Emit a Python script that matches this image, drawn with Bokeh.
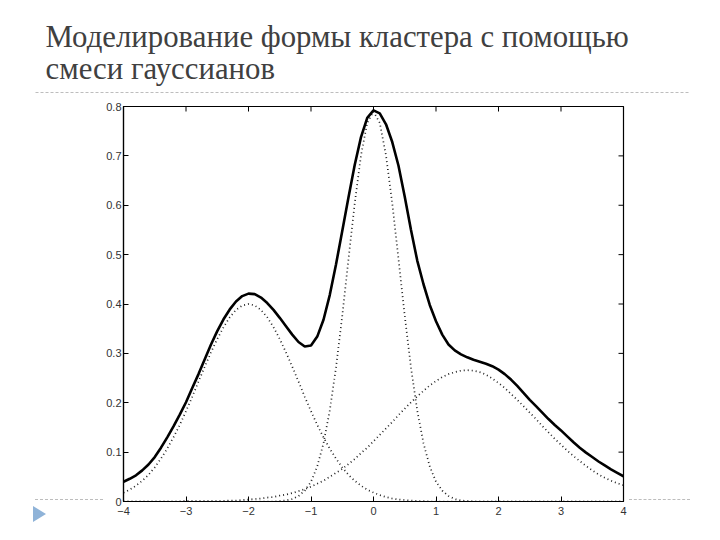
from bokeh.plotting import figure
from bokeh.layouts import column, row
from bokeh.models import Range1d, FixedTicker, LinearAxis, Div
from bokeh.core.properties import value
from bokeh.embed import file_html
from bokeh.resources import INLINE

# ---------------- data ----------------
title_lines = ["Моделирование формы кластера с помощью", "смеси гауссианов"]

x_ticks = [-4, -3, -2, -1, 0, 1, 2, 3, 4]
x_tick_labels = ["\u22124", "\u22123", "\u22122", "\u22121", "0", "1", "2", "3", "4"]
y_ticks = [0, 0.1, 0.2, 0.3, 0.4, 0.5, 0.6, 0.7, 0.8]
y_tick_labels = ["0", "0.1", "0.2", "0.3", "0.4", "0.5", "0.6", "0.7", "0.8"]

x_vals = [-4.0, -3.9, -3.8, -3.7, -3.6, -3.5, -3.4, -3.3, -3.2, -3.1,
          -3.0, -2.9, -2.8, -2.7, -2.6, -2.5, -2.4, -2.3, -2.2, -2.1,
          -2.0, -1.9, -1.8, -1.7, -1.6, -1.5, -1.4, -1.3, -1.2, -1.1,
          -1.0, -0.9, -0.8, -0.7, -0.6, -0.5, -0.4, -0.3, -0.2, -0.1,
          0.0, 0.1, 0.2, 0.3, 0.4, 0.5, 0.6, 0.7, 0.8, 0.9,
          1.0, 1.1, 1.2, 1.3, 1.4, 1.5, 1.6, 1.7, 1.8, 1.9,
          2.0, 2.1, 2.2, 2.3, 2.4, 2.5, 2.6, 2.7, 2.8, 2.9,
          3.0, 3.1, 3.2, 3.3, 3.4, 3.5, 3.6, 3.7, 3.8, 3.9, 4.0]

# left dotted component (centre near -2)
comp_left = [0.018, 0.024, 0.032, 0.042, 0.054, 0.069, 0.087, 0.107, 0.130, 0.155,
             0.183, 0.212, 0.243, 0.273, 0.302, 0.329, 0.353, 0.373, 0.388, 0.397,
             0.400, 0.397, 0.388, 0.373, 0.353, 0.329, 0.302, 0.273, 0.243, 0.212,
             0.183, 0.155, 0.130, 0.107, 0.087, 0.069, 0.054, 0.042, 0.032, 0.024,
             0.018, 0.013, 0.009, 0.006, 0.004, 0.003, 0.002, 0.001, 0.001, 0.0,
             0.0, 0.0, 0.0, 0.0, 0.0, 0.0, 0.0, 0.0, 0.0, 0.0,
             0.0, 0.0, 0.0, 0.0, 0.0, 0.0, 0.0, 0.0, 0.0, 0.0,
             0.0, 0.0, 0.0, 0.0, 0.0, 0.0, 0.0, 0.0, 0.0, 0.0, 0.0]

# central dotted component (narrow, centre near 0)
comp_mid = [0.0, 0.0, 0.0, 0.0, 0.0, 0.0, 0.0, 0.0, 0.0, 0.0,
            0.0, 0.0, 0.0, 0.0, 0.0, 0.0, 0.0, 0.0, 0.0, 0.0,
            0.0, 0.0, 0.0, 0.0, 0.0, 0.001, 0.002, 0.005, 0.011, 0.022,
            0.040, 0.071, 0.118, 0.184, 0.271, 0.376, 0.491, 0.604, 0.701, 0.767,
            0.790, 0.767, 0.701, 0.604, 0.491, 0.376, 0.271, 0.184, 0.118, 0.071,
            0.040, 0.022, 0.011, 0.005, 0.002, 0.001, 0.0, 0.0, 0.0, 0.0,
            0.0, 0.0, 0.0, 0.0, 0.0, 0.0, 0.0, 0.0, 0.0, 0.0,
            0.0, 0.0, 0.0, 0.0, 0.0, 0.0, 0.0, 0.0, 0.0, 0.0, 0.0]

# right dotted component (wide, centre near 1.5)
comp_right = [0.0, 0.0, 0.0, 0.0, 0.0, 0.0, 0.0, 0.0, 0.0, 0.0,
              0.001, 0.001, 0.001, 0.001, 0.001, 0.001, 0.001, 0.002, 0.002, 0.003,
              0.004, 0.005, 0.006, 0.008, 0.009, 0.012, 0.014, 0.017, 0.021, 0.025,
              0.030, 0.036, 0.042, 0.050, 0.058, 0.066, 0.076, 0.086, 0.098, 0.109,
              0.122, 0.135, 0.148, 0.161, 0.175, 0.188, 0.201, 0.213, 0.224, 0.235,
              0.244, 0.252, 0.258, 0.262, 0.265, 0.266, 0.265, 0.262, 0.257, 0.249,
              0.240, 0.230, 0.218, 0.206, 0.193, 0.180, 0.167, 0.153, 0.140, 0.127,
              0.115, 0.103, 0.092, 0.082, 0.072, 0.063, 0.055, 0.048, 0.042, 0.037, 0.033]

# solid mixture curve
mixture = [0.040, 0.046, 0.053, 0.063, 0.075, 0.090, 0.109, 0.130, 0.152, 0.176,
           0.201, 0.230, 0.258, 0.288, 0.318, 0.345, 0.369, 0.389, 0.405, 0.416,
           0.421, 0.420, 0.413, 0.402, 0.388, 0.372, 0.355, 0.338, 0.323, 0.314,
           0.316, 0.334, 0.368, 0.418, 0.480, 0.548, 0.616, 0.682, 0.738, 0.777,
           0.792, 0.786, 0.764, 0.728, 0.680, 0.617, 0.550, 0.488, 0.440, 0.398,
           0.365, 0.338, 0.318, 0.306, 0.298, 0.292, 0.287, 0.283, 0.279, 0.274,
           0.267, 0.258, 0.247, 0.234, 0.220, 0.206, 0.193, 0.180, 0.167, 0.155,
           0.144, 0.132, 0.120, 0.109, 0.099, 0.090, 0.081, 0.073, 0.065, 0.058, 0.051]

RULE = "#bdbdbd"

# ---------------- title strip ----------------
top = figure(width=704, height=98, output_backend="svg", toolbar_location=None,
             x_range=Range1d(0, 704), y_range=Range1d(98, 0),
             min_border=0, min_border_left=0, min_border_right=0,
             min_border_top=0, min_border_bottom=0,
             x_axis_location=None, y_axis_location=None, title=None)
top.grid.visible = False
top.outline_line_color = None
top.text(x=[45, 45], y=[36, 68], text=title_lines,
         text_font=value("Liberation Serif"), text_font_size="30.8px",
         text_color="#404040", text_baseline="alphabetic", text_align="left")
top.line([35, 690], [92, 92], line_color=RULE, line_width=1, line_dash="3 2")

# ---------------- side strips (bullet + dashed rule), plain HTML ----------------
left_html = (
    '<div style="position:absolute;left:35px;top:401px;width:68px;height:0;'
    'border-top:1px dashed ' + RULE + ';"></div>'
    '<div style="position:absolute;left:33px;top:408px;width:0;height:0;'
    'border-top:8px solid transparent;border-bottom:8px solid transparent;'
    'border-left:13px solid #8fb3d8;"></div>'
)
left = Div(text=left_html, width=103, height=434, margin=(0, 0, 0, 0),
           styles={"position": "relative", "padding": "0px"})

right_html = (
    '<div style="position:absolute;left:0px;top:401px;width:61px;height:0;'
    'border-top:1px dashed ' + RULE + ';"></div>'
)
right = Div(text=right_html, width=75, height=434, margin=(0, 0, 0, 0),
            styles={"position": "relative", "padding": "0px"})

# ---------------- chart ----------------
p = figure(width=526, height=434, output_backend="svg", toolbar_location=None,
           x_range=Range1d(-4, 4), y_range=Range1d(0, 0.8),
           min_border_left=20, min_border_right=6, min_border_top=8, min_border_bottom=31,
           x_axis_location=None, y_axis_location=None, title=None)
p.grid.visible = False
p.outline_line_color = "black"
p.outline_line_width = 1.2
p.background_fill_color = "white"
p.border_fill_color = "white"


def make_axis(ticks, labels, standoff):
    ax = LinearAxis(ticker=FixedTicker(ticks=ticks))
    ax.major_label_overrides = {t: l for t, l in zip(ticks, labels)}
    ax.axis_line_color = "black"
    ax.axis_line_width = 1.2
    ax.major_tick_in = 5
    ax.major_tick_out = 0
    ax.major_tick_line_color = "black"
    ax.major_tick_line_width = 1
    ax.minor_tick_line_color = None
    ax.major_label_text_font = "Liberation Sans"
    ax.major_label_text_font_size = "11px"
    ax.major_label_text_color = "#333333"
    ax.major_label_standoff = standoff
    return ax


p.add_layout(make_axis(x_ticks, x_tick_labels, 5), "below")
p.add_layout(make_axis(y_ticks, y_tick_labels, 2), "left")

# inward ticks on the top and right edges of the box (half of each dash is clipped by the frame)
p.scatter(x_ticks, [0.8] * len(x_ticks), marker="dash", size=10, angle=1.5708,
          line_color="black", line_width=1)
p.scatter([4] * len(y_ticks), y_ticks, marker="dash", size=10,
          line_color="black", line_width=1)

dot_style = dict(line_color="#222222", line_width=1.7, line_dash="1 3")
p.line(x_vals, comp_left, **dot_style)
p.line(x_vals, comp_mid, **dot_style)
p.line(x_vals, comp_right, **dot_style)
p.line(x_vals, mixture, line_color="black", line_width=2.6)

layout = column(top, row(left, p, right, spacing=0), spacing=0)

open("out.html", "w").write(file_html(layout, INLINE))
